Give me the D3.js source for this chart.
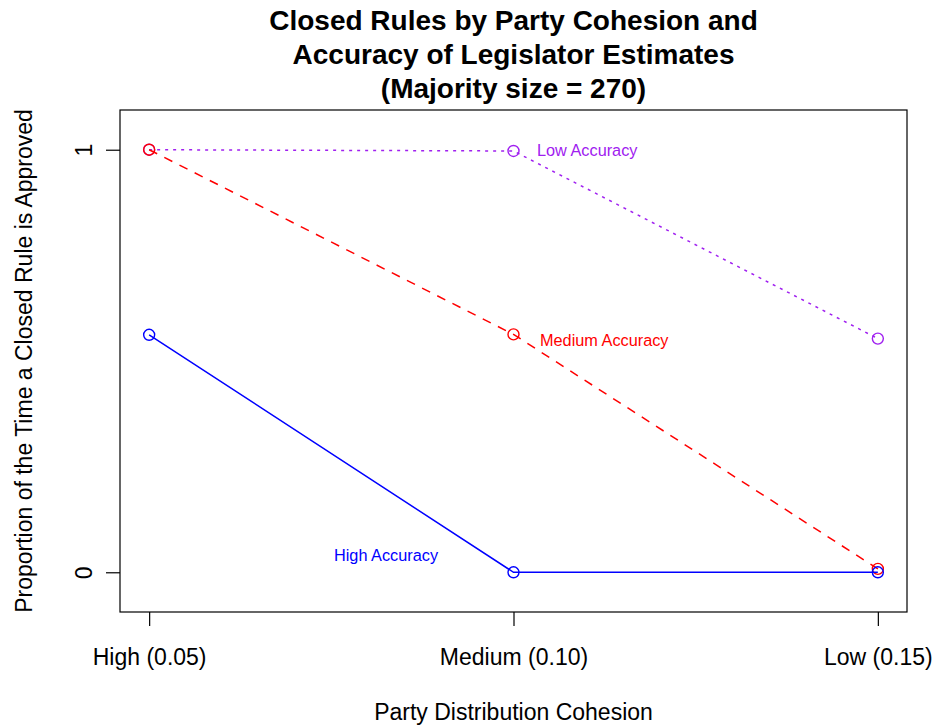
<!DOCTYPE html>
<html lang="en">
<head>
<meta charset="UTF-8"/>
<title>Closed Rules by Party Cohesion</title>
<script src="https://d3js.org/d3.v7.min.js"></script>
<style>
  body { margin: 0; background: #fff; }
  text { font-family: "Liberation Sans", Arial, sans-serif; }
</style>
</head>
<body>
<script>
var w = 938, h = 725;
var margin = {left: 120, right: 31, top: 110, bottom: 113};

// data
var cohesion = ["High (0.05)", "Medium (0.10)", "Low (0.15)"];
var lowAcc    = [1, 0.997, 0.553];
var mediumAcc = [1, 0.563, 0.008];
var highAcc   = [0.562, 0, 0];
var yTicks = [0, 1];

var series = [
  {name: "Low Accuracy",    values: lowAcc,    color: "#A020F0", dash: "3,5",  lx: 537, ly: 150, anchor: "start"},
  {name: "Medium Accuracy", values: mediumAcc, color: "#FF0000", dash: "9,8",  lx: 540, ly: 340, anchor: "start"},
  {name: "High Accuracy",   values: highAcc,   color: "#0000FF", dash: null,   lx: 386, ly: 555, anchor: "middle"}
];

var svg = d3.select("body").append("svg")
  .attr("width", w).attr("height", h);

// R style: 4% extension of the limits
var xScale = d3.scaleLinear()
  .domain([1 - 0.08, 3 + 0.08])
  .range([margin.left, w - margin.right]);

var yScale = d3.scaleLinear()
  .domain([-0.05 - 0.044, 1.05 + 0.044])
  .range([h - margin.bottom, margin.top]);

// box
svg.append("rect")
  .attr("x", margin.left).attr("y", margin.top)
  .attr("width", w - margin.left - margin.right)
  .attr("height", h - margin.top - margin.bottom)
  .attr("fill", "none").attr("stroke", "#000").attr("stroke-width", 1.2);

// x axis
var xAxis = d3.axisBottom(xScale)
  .tickValues([1, 2, 3])
  .tickFormat(function(d){ return cohesion[d - 1]; })
  .tickSize(14).tickPadding(23);

var gx = svg.append("g")
  .attr("transform", "translate(0," + (h - margin.bottom) + ")")
  .call(xAxis);
gx.select(".domain").remove();
gx.selectAll("line").attr("stroke-width", 1.2);
gx.selectAll("text").attr("font-size", 23).attr("fill", "#000")
  .attr("font-family", "Liberation Sans, Arial, sans-serif");

// y axis
var yAxis = d3.axisLeft(yScale)
  .tickValues(yTicks)
  .tickFormat(d3.format("d"))
  .tickSize(14);

var gy = svg.append("g")
  .attr("transform", "translate(" + margin.left + ",0)")
  .call(yAxis);
gy.select(".domain").remove();
gy.selectAll("line").attr("stroke-width", 1.2);
gy.selectAll("text")
  .attr("font-size", 23).attr("fill", "#000")
  .attr("font-family", "Liberation Sans, Arial, sans-serif")
  .attr("x", 0).attr("y", 0).attr("dy", 0)
  .attr("text-anchor", "middle")
  .attr("dominant-baseline", "central")
  .attr("transform", "translate(-36,0) rotate(-90)");

// lines and points
var line = d3.line()
  .x(function(d, i){ return xScale(i + 1); })
  .y(function(d){ return yScale(d); });

series.forEach(function(s){
  svg.append("path")
    .datum(s.values)
    .attr("d", line)
    .attr("fill", "none")
    .attr("stroke", s.color)
    .attr("stroke-width", 1.5)
    .attr("stroke-dasharray", s.dash);

  svg.selectAll(null)
    .data(s.values)
    .enter()
    .append("circle")
    .attr("cx", function(d, i){ return xScale(i + 1); })
    .attr("cy", function(d){ return yScale(d); })
    .attr("r", 5.5)
    .attr("fill", "none")
    .attr("stroke", s.color)
    .attr("stroke-width", 1.4);

  svg.append("text")
    .attr("x", s.lx).attr("y", s.ly)
    .attr("dy", "0.35em")
    .attr("text-anchor", s.anchor)
    .attr("font-size", 16.3)
    .attr("fill", s.color)
    .text(s.name);
});

// title
var titleLines = ["Closed Rules by Party Cohesion and", "Accuracy of Legislator Estimates", "(Majority size = 270)"];
svg.append("g").selectAll("text")
  .data(titleLines)
  .enter()
  .append("text")
  .attr("x", (margin.left + w - margin.right) / 2)
  .attr("y", function(d, i){ return 30 + i * 34; })
  .attr("text-anchor", "middle")
  .attr("font-size", 28)
  .attr("font-weight", "bold")
  .text(function(d){ return d; });

// axis labels
svg.append("text")
  .attr("x", (margin.left + w - margin.right) / 2)
  .attr("y", 720)
  .attr("text-anchor", "middle")
  .attr("font-size", 23)
  .text("Party Distribution Cohesion");

svg.append("text")
  .attr("transform", "translate(32," + (margin.top + (h - margin.top - margin.bottom) / 2) + ") rotate(-90)")
  .attr("text-anchor", "middle")
  .attr("font-size", 23)
  .text("Proportion of the Time a Closed Rule is Approved");
</script>
</body>
</html>
